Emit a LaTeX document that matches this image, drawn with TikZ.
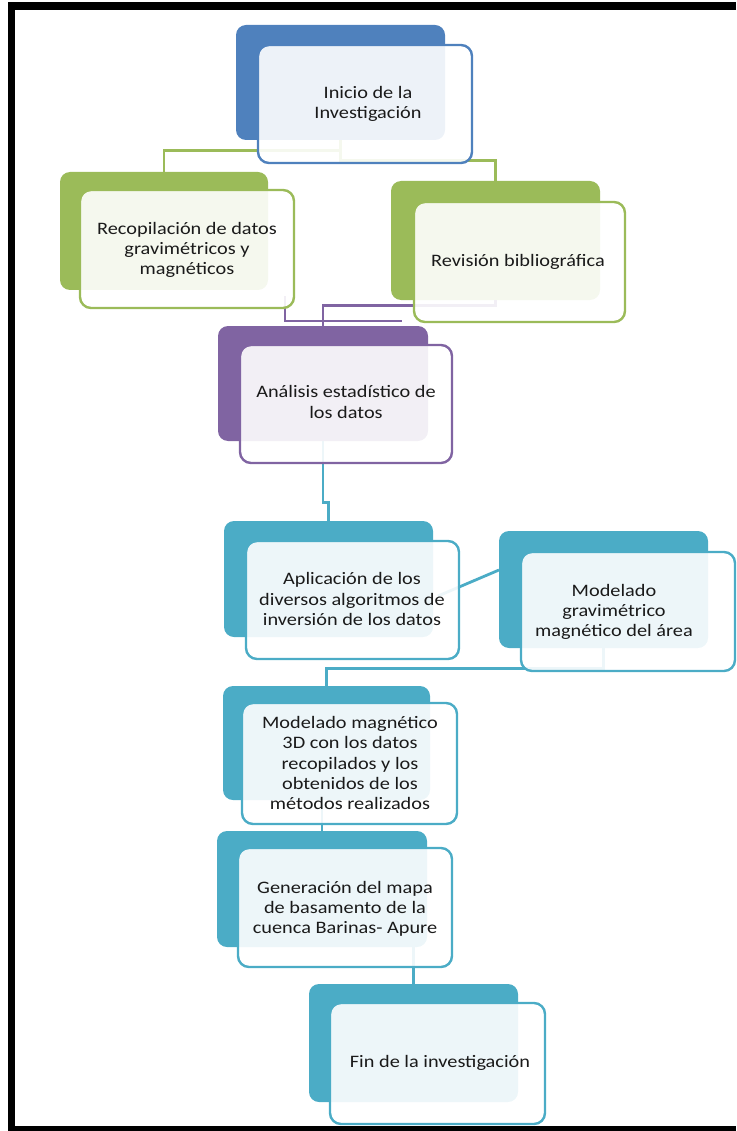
\documentclass[tikz,border=0pt]{standalone}
\usepackage{fontspec}
\setmainfont{Carlito}[FakeStretch=1.16]
\usetikzlibrary{calc}
\definecolor{blueC}{HTML}{4F81BD}
\definecolor{greenC}{HTML}{9BBB59}
\definecolor{purpleC}{HTML}{8064A2}
\definecolor{tealC}{HTML}{4BACC6}
\definecolor{txtC}{HTML}{1A1A1A}
\tikzset{
  backbox/.style={rounded corners=10pt, fill=#1, draw=none, inner sep=0pt},
  frontbox/.style={rounded corners=11pt, fill=white, fill opacity=0.9, draw=#1, line width=2.4pt, draw opacity=1, inner sep=0pt},
  txt/.style={align=center, text=txtC, font=\fontsize{17.5}{20.3}\selectfont, inner sep=0pt},
  conn/.style={draw=#1, line width=2.8pt},
}
\begin{document}
\begin{tikzpicture}[x=1pt,y=-1pt]
\useasboundingbox (0,0) rectangle (736,1131);
% frame
\fill[black] (8,2) rectangle (736,10);
\fill[black] (8,2) rectangle (15,1131);
\fill[black] (8,1126) rectangle (736,1131);
% back boxes
\node[backbox=blueC, minimum width=209pt, minimum height=115pt] (b1) at (340.5,82.5) {};
\node[backbox=greenC, minimum width=208pt, minimum height=118pt] (b2) at (164,231) {};
\node[backbox=greenC, minimum width=209pt, minimum height=119pt] (b3) at (495.5,240.5) {};
\node[backbox=purpleC, minimum width=210pt, minimum height=115pt] (b4) at (323,383.5) {};
\node[backbox=tealC, minimum width=209pt, minimum height=116pt] (b5) at (328.5,579) {};
\node[backbox=tealC, minimum width=209pt, minimum height=117pt] (b6) at (603.5,589.5) {};
\node[backbox=tealC, minimum width=207pt, minimum height=114pt] (b7) at (326.5,743) {};
\node[backbox=tealC, minimum width=210pt, minimum height=116pt] (b8) at (322,889) {};
\node[backbox=tealC, minimum width=209pt, minimum height=118pt] (b9) at (413.5,1043) {};
% named free ends
\coordinate (p1) at (285,296);
\coordinate (p2) at (285,321);
\coordinate (p3) at (402,321);
\coordinate (q1) at (438,596);
\coordinate (q2) at (499,570);
% connectors
\draw[conn=greenC] (b1.south) -- ++(0,10) -| (b2.north);
\draw[conn=greenC] (b1.south) -- ++(0,20.5) -| (b3.north);
\draw[conn=purpleC] (p1) -- (p2) -- (p3);
\draw[conn=purpleC] (b3.south) -- ++(0,5) -| (b4.north);
\draw[conn=tealC] (b4.south) -- ++(0,61) -| (b5.north);
\draw[conn=tealC] (q1) -- (q2);
\draw[conn=tealC] (b6.south) -- ++(0,20) -| (b7.north);
\draw[conn=tealC] (b8.north |- b7.south) -- (b8.north);
\draw[conn=tealC] (b9.north |- b8.south) -- (b9.north);
% front boxes
\node[frontbox=blueC, minimum width=214pt, minimum height=118pt] (f1) at (365,104) {};
\node[frontbox=greenC, minimum width=214pt, minimum height=118pt] (f2) at (187,249) {};
\node[frontbox=greenC, minimum width=211pt, minimum height=120pt] (f3) at (519.5,262) {};
\node[frontbox=purpleC, minimum width=212pt, minimum height=118pt] (f4) at (346,404) {};
\node[frontbox=tealC, minimum width=213pt, minimum height=118pt] (f5) at (352.5,600) {};
\node[frontbox=tealC, minimum width=214pt, minimum height=119pt] (f6) at (628,611.5) {};
\node[frontbox=tealC, minimum width=215pt, minimum height=121pt] (f7) at (349.5,763.5) {};
\node[frontbox=tealC, minimum width=214pt, minimum height=119pt] (f8) at (345,907.5) {};
\node[frontbox=tealC, minimum width=215pt, minimum height=121pt] (f9) at (437.5,1063.5) {};
% texts
\node[txt] (t1) at (368,104) {Inicio de la\\Investigación};
\node[txt] (t2) at (187,250) {Recopilación de datos\\gravimétricos y\\magnéticos};
\node[txt] (t3) at (518,262) {Revisión bibliográfica};
\node[txt] (t4) at (346,402) {Análisis estadístico de\\los datos};
\node[txt] (t5) at (352,599) {Aplicación de los\\diversos algoritmos de\\inversión de los datos};
\node[txt] (t6) at (614,612) {Modelado\\gravimétrico\\magnético del área};
\node[txt] (t7) at (350,763) {Modelado magnético\\3D con los datos\\recopilados y los\\obtenidos de los\\métodos realizados};
\node[txt] (t8) at (345,909) {Generación del mapa\\de basamento de la\\cuenca Barinas- Apure};
\node[txt] (t9) at (440,1063) {Fin de la investigación};
\end{tikzpicture}
\end{document}
